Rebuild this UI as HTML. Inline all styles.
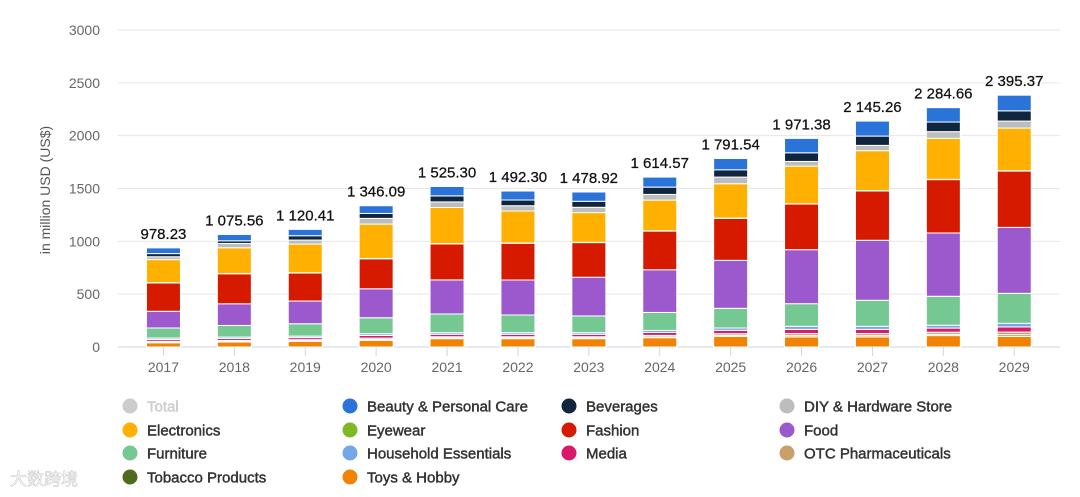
<!DOCTYPE html>
<html><head><meta charset="utf-8">
<style>
html,body{margin:0;padding:0;background:#fff;width:1080px;height:497px;overflow:hidden;font-family:"Liberation Sans","DejaVu Sans",sans-serif;}
svg text{font-family:"Liberation Sans","DejaVu Sans",sans-serif;}
</style></head>
<body>
<svg id="chart" width="1080" height="497" xmlns="http://www.w3.org/2000/svg"></svg>
<script>
const years = ["2017","2018","2019","2020","2021","2022","2023","2024","2025","2026","2027","2028","2029"];
const totals = [978.23,1075.56,1120.41,1346.09,1525.30,1492.30,1478.92,1614.57,1791.54,1971.38,2145.26,2284.66,2395.37];
const totalLabels = ["978.23","1 075.56","1 120.41","1 346.09","1 525.30","1 492.30","1 478.92","1 614.57","1 791.54","1 971.38","2 145.26","2 284.66","2 395.37"];
const toys = [40,47,53,63,79,79,79,88,101,95,95,108,101];
const tobacco = [5,6,6,8,7,7,7,8,9,12,12,12,15];
const otc = [9,9,10,13,11,11,11,14,16,20,20,20,25];
const media = [18,19,20,25,23,23,23,28,32,40,40,39,49];
const household = [13,13,14,17,16,16,16,19,22,29,29,27,34];
const furniture = [95,110,117,151,177,167,158,170,186,214,246,274,284];
const food = [158,205,215,274,322,331,366,404,454,511,568,599,624];
const fashion = [268,284,265,284,341,347,328,366,397,432,467,505,533];
const eyewear = [3,3,3,3,3,3,3,3,3,3,3,3,3];
const electronics = [218,243,271,325,341,303,281,290,325,356,378,388,404];
const diy = [27,41,38,54,53,50,50,54,63,44,50,63,66];
const beverages = [30,25,41,47,57,54,57,69,69,82,88,91,97];
const beauty = [54,60,60,73,89,85,88,95,107,136,142,136,148];
const yTicks = [0,500,1000,1500,2000,2500,3000];

const series = [
 ["toys-hobby",toys,"#f28202"],["tobacco-products",tobacco,"#4e6b1e"],["otc-pharmaceuticals",otc,"#c9a06a"],
 ["media",media,"#d91a6a"],["household-essentials",household,"#74a7e4"],["furniture",furniture,"#76c893"],
 ["food",food,"#9c59cd"],["fashion",fashion,"#d61a00"],["eyewear",eyewear,"#80b825"],
 ["electronics",electronics,"#ffb000"],["diy-hardware",diy,"#bdbdbd"],["beverages",beverages,"#10263f"],
 ["beauty-personal-care",beauty,"#2a73d9"]
];
const NS="http://www.w3.org/2000/svg";
const svg=document.getElementById('chart');
function el(t,a,p){const e=document.createElementNS(NS,t);for(const k in a)e.setAttribute(k,a[k]);(p||svg).appendChild(e);return e;}
const y0=347,y1=30,ymax=3000;
const yS=v=>y0-(v/ymax)*(y0-y1);
const x0=128,step=70.9;
const xS=i=>x0+step*(i+0.5);
const bw=34;

yTicks.forEach(t=>{
  const g=el('line',{x1:118,x2:1060,y1:yS(t),y2:yS(t),stroke:t===0?'#ccd6eb':'#e6e6e6','stroke-width':1});
  
  
  const tx=el('text',{x:100,y:yS(t)+5,'text-anchor':'end','font-size':14,fill:'#666'});
  tx.textContent=t;
  
  
});
const yt=el('text',{transform:'translate(50,190) rotate(-90)','text-anchor':'middle','font-size':14,fill:'#555'});
yt.textContent='in million USD (US$)';



years.forEach((yr,i)=>{
  let acc=0;
  series.forEach(s=>{
    const v=s[1][i];
    const r=el('rect',{x:xS(i)-bw/2,y:yS(acc+v),width:bw,height:Math.max(0,yS(acc)-yS(acc+v)),fill:s[2],stroke:'#fff','stroke-width':1});
    
    
    acc+=v;
  });
  const lb=el('text',{x:xS(i),y:yS(acc)-9,'text-anchor':'middle','font-size':15,fill:'#111',stroke:'#111','stroke-width':0.25});
  lb.textContent=totalLabels[i];
  
  
  const tk=el('line',{x1:xS(i),x2:xS(i),y1:347,y2:356,stroke:'#ccd6eb'});
  
  
  const xl=el('text',{x:xS(i),y:372,'text-anchor':'middle','font-size':14,fill:'#666'});
  xl.textContent=yr;
  
  
});

const legend=[
 ["Total","#cccccc",true],["Beauty & Personal Care","#2a73d9"],["Beverages","#10263f"],["DIY & Hardware Store","#bdbdbd"],
 ["Electronics","#ffb000"],["Eyewear","#80b825"],["Fashion","#d61a00"],["Food","#9c59cd"],
 ["Furniture","#76c893"],["Household Essentials","#74a7e4"],["Media","#d91a6a"],["OTC Pharmaceuticals","#c9a06a"],
 ["Tobacco Products","#4e6b1e"],["Toys & Hobby","#f28202"]
];
const lx=[130,350,569,787], ly=[406,430,453,477];
legend.forEach((l,i)=>{
  const g=el('g',{});
  
  
  const cx=lx[i%4], cy=ly[Math.floor(i/4)];
  el('circle',{cx:cx,cy:cy,r:7.5,fill:l[1]},g);
  const c=l[2]?'#cccccc':'#333';
  const t=el('text',{x:cx+17,y:cy+5.5,'font-size':15,fill:c,stroke:c,'stroke-width':0.45},g);
  t.textContent=l[0];
});
const wm=el('text',{x:10,y:485,'font-size':17,fill:'#ffffff',stroke:'#ccc','stroke-width':0.6,'font-family':'"Noto Sans CJK SC",sans-serif'});
wm.textContent='大数跨境';


</script>
</body></html>
